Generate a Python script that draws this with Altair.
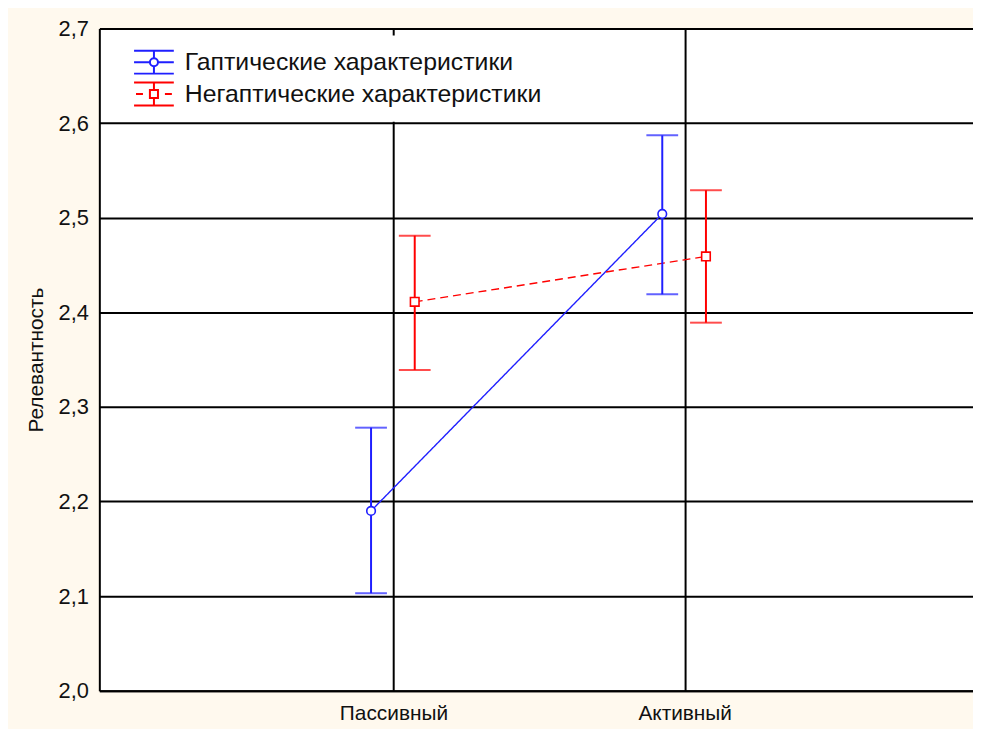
import altair as alt
import pandas as pd

categories = ["Пассивный", "Активный"]
series = ["Гаптические характеристики", "Негаптические характеристики"]
haptic_mean = [2.190, 2.504]
haptic_low = [2.103, 2.419]
haptic_high = [2.278, 2.587]
nonhaptic_mean = [2.411, 2.459]
nonhaptic_low = [2.339, 2.389]
nonhaptic_high = [2.481, 2.529]
y_ticks = [2.0, 2.1, 2.2, 2.3, 2.4, 2.5, 2.6, 2.7]

colors = ["#1f1fff", "#ff0000"]
FONT = "Liberation Sans"
TXT = "#111111"

rows = []
for s, means, lows, highs in [
    (series[0], haptic_mean, haptic_low, haptic_high),
    (series[1], nonhaptic_mean, nonhaptic_low, nonhaptic_high),
]:
    for i, c in enumerate(categories):
        rows.append({"series": s, "cat": c, "ci": i + 1,
                     "mean": means[i], "low": lows[i], "high": highs[i]})
df = pd.DataFrame(rows)
legend_df = pd.DataFrame({"series": series, "nx": [None, None]})

cat_list = "[" + ",".join("'" + c + "'" for c in categories) + "]"

xaxis = alt.Axis(values=[1, 2], labelExpr=cat_list + "[datum.value - 1]",
                 grid=True, gridColor="black", gridWidth=2, gridOpacity=1,
                 domain=True, domainColor="black", domainWidth=2,
                 ticks=False, labelPadding=12, labelFontSize=21, labelFont=FONT,
                 labelColor=TXT)
yaxis = alt.Axis(values=y_ticks,
                 labelExpr="replace(format(datum.value, '.1f'), '.', ',')",
                 grid=True, gridColor="black", gridWidth=2, gridOpacity=1,
                 domain=True, domainColor="black", domainWidth=2,
                 ticks=False, labelPadding=11, labelFontSize=22, labelFont=FONT,
                 labelColor=TXT, titleFont=FONT, titleFontSize=21,
                 titleFontWeight="normal", titleColor=TXT, titlePadding=12)

xscale = alt.Scale(domain=[-0.01, 2.99], nice=False, zero=False)
yscale = alt.Scale(domain=[2.0, 2.7], nice=False, zero=False)
YT = "Релевантность"

def X(field="xpos:Q"):
    return alt.X(field, scale=xscale, axis=xaxis, title=None)

def Y(field):
    return alt.Y(field, scale=yscale, axis=yaxis, title=YT)

def C(legend=None):
    return alt.Color("series:N", scale=alt.Scale(domain=series, range=colors), legend=legend)

base = alt.Chart(df).transform_calculate(
    xpos="datum.ci + (datum.series == '" + series[0] + "' ? -0.077 : 0.073)"
)

lines = base.mark_line(strokeWidth=1.4).encode(
    x=X(), y=Y("mean:Q"), color=C(),
    strokeDash=alt.StrokeDash("series:N",
                              scale=alt.Scale(domain=series, range=[[1, 0], [8, 5]]),
                              legend=None),
)
rules = base.mark_rule(strokeWidth=2).encode(
    x=X(), y=Y("low:Q"), y2="high:Q", color=C())
cap_lo = base.mark_tick(orient="horizontal", size=32, thickness=2).encode(
    x=X(), y=Y("low:Q"), color=C())
cap_hi = base.mark_tick(orient="horizontal", size=32, thickness=2).encode(
    x=X(), y=Y("high:Q"), color=C())
points = base.mark_point(filled=True, fill="white", opacity=1, strokeWidth=1.6, size=75).encode(
    x=X(), y=Y("mean:Q"),
    stroke=alt.Stroke("series:N", scale=alt.Scale(domain=series, range=colors), legend=None),
    shape=alt.Shape("series:N", scale=alt.Scale(domain=series, range=["circle", "square"]), legend=None),
)

path_blue = ("M-1.43,-0.82H1.43M-1.43,0.82H1.43M0,-0.82V-0.29M0,0.29V0.82"
             "M-1.43,0H-0.29M0.29,0H1.43"
             "M-0.29,0A0.29,0.29,0,1,0,0.29,0A0.29,0.29,0,1,0,-0.29,0")
path_red = ("M-1.43,-0.82H1.43M-1.43,0.82H1.43M0,-0.82V-0.29M0,0.29V0.82"
            "M-1.29,0H-0.79M0.79,0H1.29"
            "M-0.29,-0.29H0.29V0.29H-0.29Z")

LEG = alt.Legend(title=None, orient="none", legendX=28, legendY=7,
                 symbolSize=784, symbolStrokeWidth=2, labelFontSize=25,
                 labelFont=FONT, labelColor=TXT, labelOffset=16, rowPadding=0,
                 padding=12, fillColor="white", labelLimit=700)

legend_layer = alt.Chart(legend_df).transform_filter("isValid(datum.nx)").mark_point(
    filled=False, opacity=1, strokeWidth=2, size=784).encode(
    x=X("nx:Q"),
    color=C(LEG),
    shape=alt.Shape("series:N", scale=alt.Scale(domain=series, range=[path_blue, path_red]),
                    legend=LEG),
)

chart = alt.layer(lines, rules, cap_lo, cap_hi, points, legend_layer).resolve_scale(
    color="independent", shape="independent", stroke="independent", strokeDash="independent"
).properties(
    width=880, height=667,
    autosize=alt.AutoSizeParams(type="none"),
    padding={"left": 92, "top": 18, "right": 0, "bottom": 36},
    background="#fff9ee",
).configure(font=FONT).configure_view(strokeWidth=0, fill="white")

chart.save("out.html", embed_options={"renderer": "svg", "actions": False})
